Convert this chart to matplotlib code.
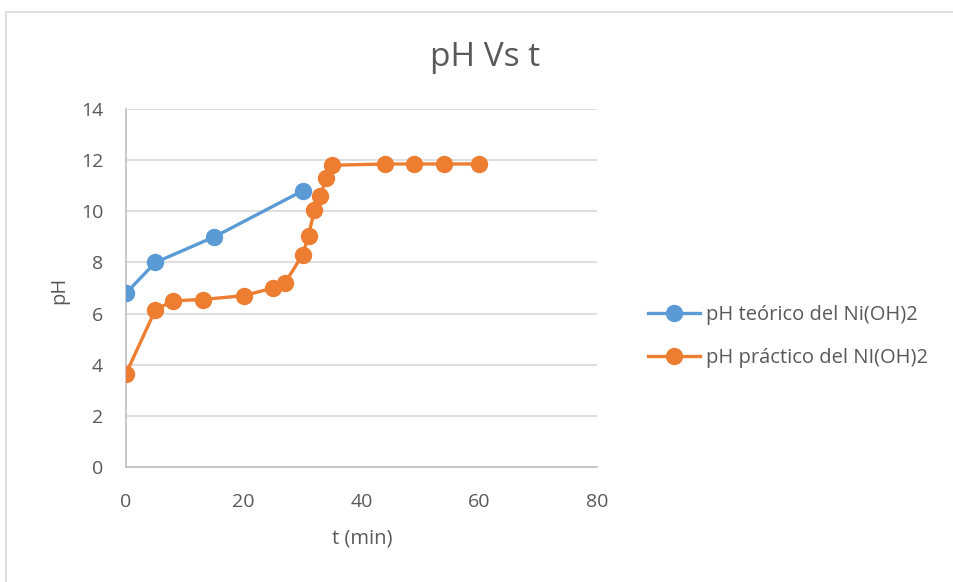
import matplotlib.pyplot as plt
from matplotlib.patches import Rectangle

plt.rcParams['font.family'] = ['Open Sans', 'DejaVu Sans']

# tiempos (min) y pH medidos
t_teorico = [0, 5, 15, 30]
ph_teorico = [6.8, 8.0, 9.0, 10.8]

t_practico = [0, 5, 8, 13, 20, 25, 27, 30, 31, 32, 33, 34, 35, 44, 49, 54, 60]
ph_practico = [3.65, 6.15, 6.5, 6.55, 6.7, 7.0, 7.2, 8.3, 9.05, 10.05, 10.6, 11.3, 11.8,
               11.85, 11.85, 11.85, 11.85]

x_ticks = [0, 20, 40, 60, 80]
y_ticks = [0, 2, 4, 6, 8, 10, 12, 14]

txt = '#595959'
azul = '#5B9BD5'
naranja = '#ED7D31'

fig = plt.figure(figsize=(9.54, 5.82), dpi=100)
fig.patches.append(Rectangle((6 / 954, -0.01), 1.0, 570 / 582 + 0.01, transform=fig.transFigure,
                             fill=False, edgecolor='#D9D9D9', linewidth=1.2))

ax = fig.add_axes([126 / 954, 1 - 467 / 582, (597 - 126) / 954, (467 - 109) / 582])

ax.plot(t_teorico, ph_teorico, color=azul, linewidth=2.4, marker='o', markersize=11.5,
        label='pH teórico del Ni(OH)2', zorder=3)
ax.plot(t_practico, ph_practico, color=naranja, linewidth=2.4, marker='o', markersize=11.5,
        label='pH práctico del NI(OH)2', zorder=3)

ax.set_xlim(0, 80)
ax.set_ylim(0, 14)
ax.set_xticks(x_ticks)
ax.set_yticks(y_ticks)
ax.grid(axis='y', color='#D9D9D9', linewidth=1.2)
ax.set_axisbelow(True)
for s in ['top', 'right']:
    ax.spines[s].set_visible(False)
for s in ['left', 'bottom']:
    ax.spines[s].set_color('#BFBFBF')
    ax.spines[s].set_linewidth(1.2)
ax.tick_params(length=0, labelsize=14, labelcolor=txt)
ax.tick_params(axis='x', pad=19)
ax.tick_params(axis='y', pad=16.5)
for lbl in ax.get_xticklabels() + ax.get_yticklabels():
    lbl.set_clip_on(False)

ax.set_xlabel('t (min)', fontsize=14.5, color=txt)
ax.set_ylabel('pH', fontsize=14.5, color=txt)
ax.xaxis.set_label_coords(0.501, -0.173)
ax.yaxis.set_label_coords(-0.121, 0.494)
fig.text(485 / 954, 1 - 57 / 582, 'pH Vs t', fontsize=24, color=txt, ha='center', va='center')

ax.legend(loc='center left', bbox_to_anchor=(1.108, 0.365), frameon=False, fontsize=14.5,
          labelcolor=txt, handlelength=2.6, handletextpad=0.3, labelspacing=1.15,
          borderpad=0, borderaxespad=0)

fig.savefig('out.png', dpi=100)
